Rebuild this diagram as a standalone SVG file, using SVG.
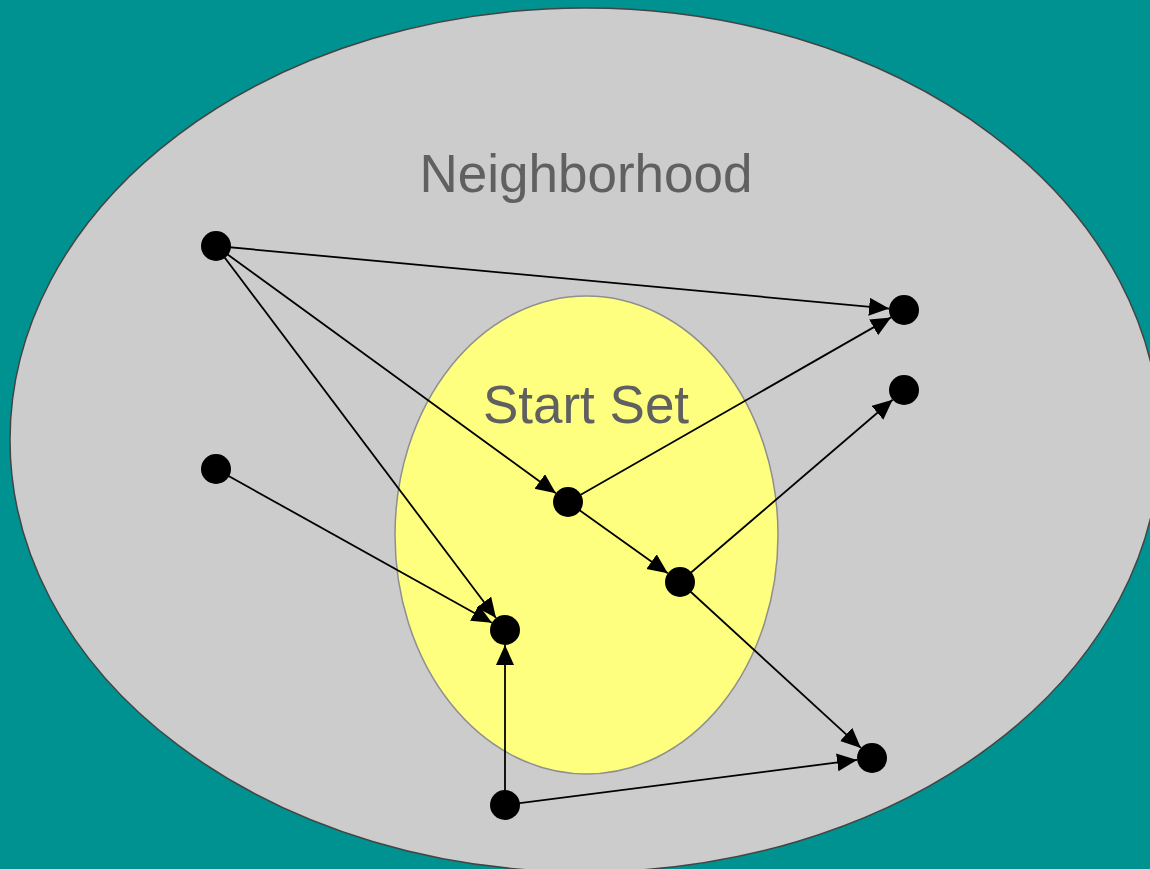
<svg xmlns="http://www.w3.org/2000/svg" width="1150" height="869" viewBox="0 0 1150 869">
<style>
.lbl{font-family:"Liberation Sans",Arial,sans-serif;font-size:53px;fill:#606060;text-anchor:middle}
.node{fill:#000}
.edge{stroke:#000;stroke-width:1.8;fill:none;marker-end:url(#ah)}
</style>
<defs>
<marker id="ah" markerUnits="userSpaceOnUse" markerWidth="22" markerHeight="20" refX="20" refY="9" orient="auto">
<path d="M0,0 L20,9 L0,18 z" fill="#000"/>
</marker>
</defs>
<rect width="1150" height="869" fill="#009191"/>
<g id="neighborhood">
<ellipse cx="585" cy="440" rx="575" ry="432" fill="#cccccc" stroke="#444" stroke-width="1.5"/>
<text class="lbl" x="586" y="192">Neighborhood</text>
</g>
<g id="startset">
<ellipse cx="586.5" cy="535" rx="191.5" ry="239" fill="#ffff7f" stroke="#8f8f8f" stroke-width="1.5"/>
<text class="lbl" x="586" y="423">Start Set</text>
</g>
<g id="edges">
<line class="edge" x1="216" y1="246" x2="889.1" y2="308.6"/>
<line class="edge" x1="216" y1="246" x2="555.9" y2="493.2"/>
<line class="edge" x1="216" y1="246" x2="496" y2="618"/>
<line class="edge" x1="216" y1="469" x2="491.9" y2="622.7"/>
<line class="edge" x1="568" y1="502" x2="891" y2="317.4"/>
<line class="edge" x1="568" y1="502" x2="667.8" y2="573.3"/>
<line class="edge" x1="680" y1="582" x2="892.6" y2="399.8"/>
<line class="edge" x1="680" y1="582" x2="860.9" y2="747.9"/>
<line class="edge" x1="505" y1="805" x2="505" y2="645"/>
<line class="edge" x1="505" y1="805" x2="857.1" y2="759.9"/>
</g>
<g id="nA"><circle class="node" cx="216" cy="246" r="15"/></g>
<g id="nB"><circle class="node" cx="904" cy="310" r="15"/></g>
<g id="nC"><circle class="node" cx="904" cy="390" r="15"/></g>
<g id="nD"><circle class="node" cx="216" cy="469" r="15"/></g>
<g id="nE"><circle class="node" cx="568" cy="502" r="15"/></g>
<g id="nF"><circle class="node" cx="680" cy="582" r="15"/></g>
<g id="nG"><circle class="node" cx="505" cy="630" r="15"/></g>
<g id="nH"><circle class="node" cx="872" cy="758" r="15"/></g>
<g id="nI"><circle class="node" cx="505" cy="805" r="15"/></g>
</svg>
